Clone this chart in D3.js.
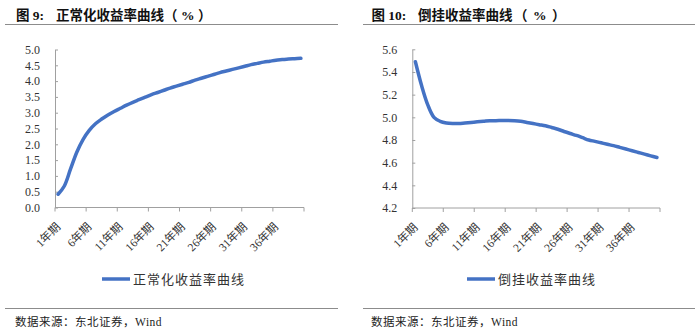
<!DOCTYPE html>
<html><head><meta charset="utf-8">
<script src="https://cdn.jsdelivr.net/npm/d3@7"></script>
<style>
html,body{margin:0;padding:0;background:#fff;}
svg{display:block;}
</style></head>
<body>
<svg id="c" width="700" height="331"></svg>
<script>
// ---- data ----
const periods = d3.range(1, 41).map(d => d + "年期");
const tickPeriods = ["1年期","6年期","11年期","16年期","21年期","26年期","31年期","36年期"];
const normalValues = [0.42,0.68,1.22,1.75,2.15,2.44,2.65,2.80,2.93,3.04,
  3.14,3.24,3.33,3.41,3.49,3.57,3.64,3.71,3.78,3.84,
  3.90,3.96,4.03,4.09,4.15,4.21,4.27,4.32,4.37,4.42,
  4.47,4.52,4.56,4.60,4.63,4.66,4.68,4.70,4.71,4.72];
const invertedValues = [5.49,5.28,5.11,5.00,4.965,4.95,4.945,4.945,4.95,4.955,
  4.96,4.965,4.97,4.97,4.972,4.972,4.97,4.965,4.955,4.945,
  4.935,4.925,4.91,4.895,4.875,4.857,4.84,4.82,4.80,4.788,
  4.775,4.762,4.75,4.735,4.72,4.705,4.69,4.675,4.66,4.645];
const normalTicks = [0,0.5,1,1.5,2,2.5,3,3.5,4,4.5,5];
const invertedTicks = [4.2,4.4,4.6,4.8,5.0,5.2,5.4,5.6];
const titles = [["图 9:", "正常化收益率曲线"], ["图 10:", "倒挂收益率曲线"]];
const unitParts = ["（", "%", "）"];
const legendNames = ["正常化收益率曲线", "倒挂收益率曲线"];
const sourceText = "数据来源：东北证券，Wind";

const svg = d3.select("#c");
const CJK = "'Liberation Serif','Times New Roman','Noto Sans CJK SC',serif";
const lineColor = "#4472C4";
const axisColor = "#a0a0a0";

const panels = [
  {values: normalValues, ticks: normalTicks, dom:[0,5], x0:55, x1:304, yb:207.5, yt:49.5,
   title: titles[0], tx:16, tmain:56, ux:[164,181,198], sepX0:5, sepX1:338, legX:102, legName: legendNames[0], srcX:15},
  {values: invertedValues, ticks: invertedTicks, dom:[4.2,5.6], x0:412.3, x1:660, yb:208, yt:49.3,
   title: titles[1], tx:371.5, tmain:418, ux:[514,533,552], sepX0:363, sepX1:695, legX:467, legName: legendNames[1], srcX:371}
];

panels.forEach(p => {
  const g = svg.append("g");
  // title
  const t = g.append("text").attr("y", 19.5)
    .attr("font-family", CJK).attr("font-weight", "bold").attr("font-size", 13.5).attr("fill", "#111");
  t.append("tspan").attr("x", p.tx).text(p.title[0]);
  t.append("tspan").attr("x", p.tmain).text(p.title[1]);
  unitParts.forEach((u, i) => t.append("tspan").attr("x", p.ux[i]).text(u));
  g.append("line").attr("x1", p.sepX0).attr("x2", p.sepX1).attr("y1", 24.5).attr("y2", 24.5)
    .attr("stroke", "#8c8c8c").attr("stroke-width", 1);

  const x = d3.scaleBand().domain(periods).range([p.x0, p.x1]).padding(0);
  const y = d3.scaleLinear().domain(p.dom).range([p.yb, p.yt]);

  // y axis
  const ya = d3.axisLeft(y).tickValues(p.ticks).tickFormat(d3.format(".1f")).tickSizeInner(-3).tickSizeOuter(0).tickPadding(15);
  const yg = g.append("g").attr("transform", `translate(${p.x0},0)`).call(ya);
  yg.select(".domain").attr("stroke", axisColor);
  yg.selectAll(".tick line").attr("stroke", axisColor);
  yg.selectAll(".tick text").attr("font-family", CJK).attr("font-size", 12).attr("fill", "#333");

  // x axis
  const xa = d3.axisBottom(x).tickValues(tickPeriods).tickSize(0).tickFormat(d => d);
  const xg = g.append("g").attr("transform", `translate(0,${p.yb})`).call(xa);
  xg.select(".domain").attr("stroke", axisColor).attr("d", `M${p.x0},0H${p.x1}`);
  xg.selectAll(".tick text")
    .attr("font-family", CJK).attr("font-size", 11.5).attr("fill", "#333")
    .attr("text-anchor", "end").attr("dy", null).attr("y", null)
    .attr("transform", "translate(3,20) rotate(-45)");
  // boundary ticks every 5 categories
  const bounds = d3.range(0, 41, 5).map(i => p.x0 + i * x.bandwidth());
  xg.selectAll(".bt").data(bounds).join("line").attr("class", "bt")
    .attr("x1", d => d).attr("x2", d => d).attr("y1", 0).attr("y2", 4)
    .attr("stroke", axisColor);

  // line
  const line = d3.line()
    .x((d, i) => x(periods[i]) + x.bandwidth() / 2)
    .y(d => y(d))
    .curve(d3.curveCatmullRom.alpha(0.5));
  g.append("path").datum(p.values).attr("d", line)
    .attr("fill", "none").attr("stroke", lineColor).attr("stroke-width", 3.5)
    .attr("stroke-linecap", "round").attr("stroke-linejoin", "round");

  // legend
  g.append("line").attr("x1", p.legX).attr("x2", p.legX + 28).attr("y1", 279).attr("y2", 279)
    .attr("stroke", lineColor).attr("stroke-width", 3.5);
  g.append("text").attr("x", p.legX + 31).attr("y", 283.5)
    .attr("font-family", CJK).attr("font-size", 13).attr("letter-spacing", 1).attr("fill", "#333")
    .text(p.legName);

  // footer
  g.append("line").attr("x1", p.sepX0).attr("x2", p.sepX1).attr("y1", 308.5).attr("y2", 308.5)
    .attr("stroke", "#8c8c8c").attr("stroke-width", 1);
  g.append("text").attr("x", p.srcX).attr("y", 326)
    .attr("font-family", CJK).attr("font-size", 11.5).attr("letter-spacing", 0.5).attr("fill", "#222")
    .text(sourceText);
});
</script>
</body></html>
